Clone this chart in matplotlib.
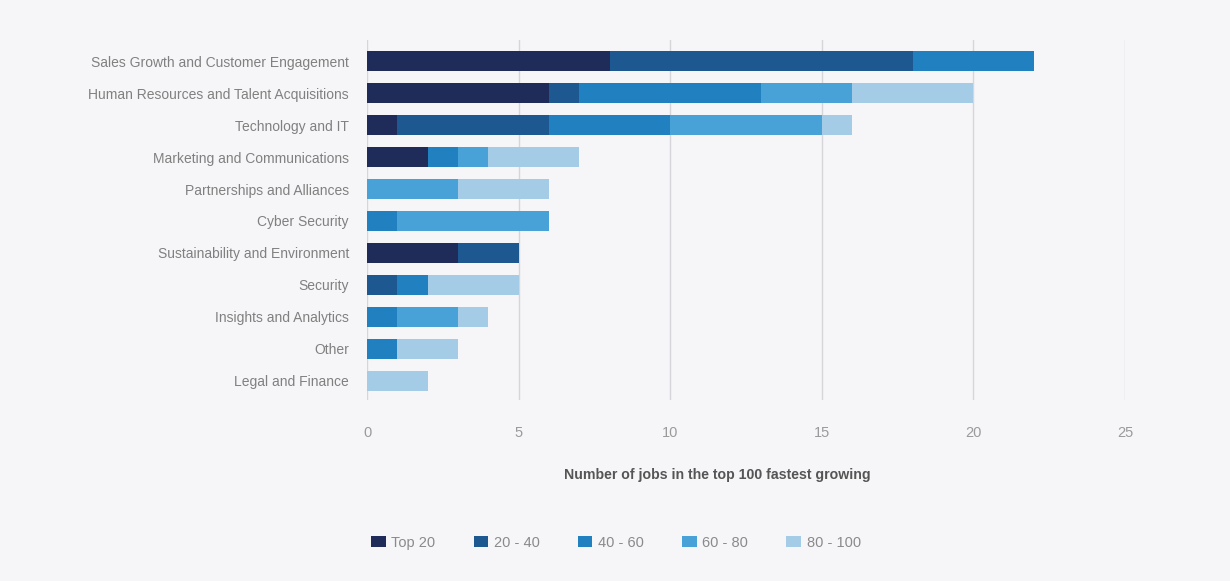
import matplotlib.pyplot as plt
import numpy as np

categories = ['Sales Growth and Customer Engagement', 'Human Resources and Talent Acquisitions',
              'Technology and IT', 'Marketing and Communications', 'Partnerships and Alliances',
              'Cyber Security', 'Sustainability and Environment', 'Security',
              'Insights and Analytics', 'Other', 'Legal and Finance']
series_names = ['Top 20', '20 - 40', '40 - 60', '60 - 80', '80 - 100']
top20 = [8, 6, 1, 2, 0, 0, 3, 0, 0, 0, 0]
r20_40 = [10, 1, 5, 0, 0, 0, 2, 1, 0, 0, 0]
r40_60 = [4, 6, 4, 1, 0, 1, 0, 1, 1, 1, 0]
r60_80 = [0, 3, 5, 1, 3, 5, 0, 0, 2, 0, 0]
r80_100 = [0, 4, 1, 3, 3, 0, 0, 3, 1, 2, 2]
colors = ['#1f2b58', '#1d5890', '#2180c0', '#48a2d8', '#a5cce6']

plt.rcParams['font.family'] = ['Liberation Sans', 'DejaVu Sans']
bg = '#f6f6f8'
fig = plt.figure(figsize=(12.3, 5.81), dpi=100, facecolor=bg)
ax = fig.add_axes([0.2984, 0.3115, 0.6162, 0.6196], facecolor=bg)

y = np.arange(len(categories))
left = np.zeros(len(categories))
for name, vals, c in zip(series_names, [top20, r20_40, r40_60, r60_80, r80_100], colors):
    ax.barh(y, vals, left=left, height=0.63, color=c, label=name, zorder=3)
    left += np.array(vals)

ax.set_xlim(0, 25)
ax.set_ylim(10.6, -0.66)
ax.set_xticks([0, 5, 10, 15, 20, 25])
ax.set_yticks(y)
ax.set_yticklabels(categories, fontsize=10, color='#808080')
ax.tick_params(axis='x', colors='#9a9a9a', labelsize=10.5, length=0, pad=19)
ax.tick_params(axis='y', length=0, pad=13)
ax.grid(axis='x', color='#d6d6da', linewidth=1.0, zorder=0)
for s in ax.spines.values():
    s.set_visible(False)

ax.set_xlabel('Number of jobs in the top 100 fastest growing', fontsize=10.2,
              color='#555555', fontweight='bold')
ax.xaxis.set_label_coords(0.462, -0.19)

ax.legend(loc='upper left', bbox_to_anchor=(-0.012, -0.34), ncol=5, frameon=False,
          fontsize=10.5, labelcolor='#8a8a8a', handlelength=1.0, handleheight=0.7,
          columnspacing=2.6, handletextpad=0.4)

fig.savefig('out.png', dpi=100, facecolor=bg)
